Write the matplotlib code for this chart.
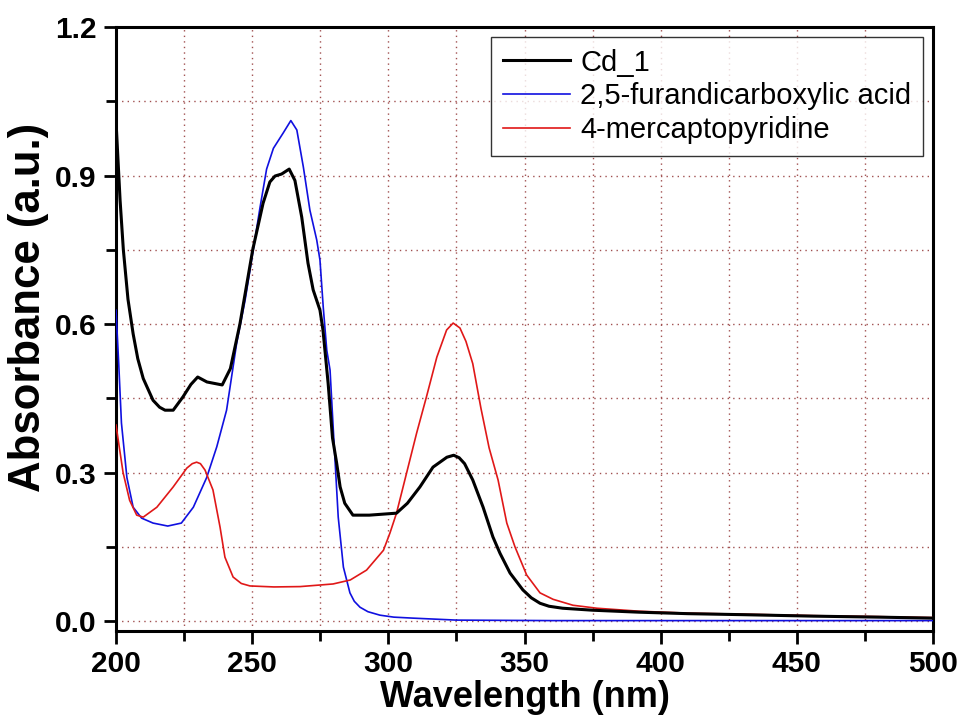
import matplotlib
matplotlib.use("Agg")
import matplotlib.pyplot as plt
from matplotlib.ticker import MultipleLocator
import numpy as np

# ---- data ----
cd_x = [200, 201.5, 202.7, 204.4, 206.3, 208, 210, 213.6, 216, 218, 221, 224.6, 227.5, 230, 233.4, 239, 242,
        245.5, 250.2, 254, 256.5, 258.4, 260.8, 263.6, 265.7, 268.2, 270.5, 272.4, 274.9, 276,
        277.9, 279.5, 281, 282.3, 284, 287, 293, 303, 307, 311.6, 316.4, 321.5, 324, 326, 328,
        331, 334.8, 338.4, 341, 344.7, 349.4, 352.5, 355.7, 359, 364, 375, 392, 410, 430, 456, 480, 500]
cd_y = [1.01, 0.85, 0.75, 0.65, 0.58, 0.53, 0.49, 0.446, 0.432, 0.426, 0.426, 0.453, 0.478, 0.493, 0.483, 0.477, 0.51,
        0.60, 0.75, 0.844, 0.887, 0.899, 0.903, 0.913, 0.89, 0.816, 0.723, 0.669, 0.628, 0.588,
        0.48, 0.37, 0.32, 0.271, 0.238, 0.214, 0.214, 0.218, 0.238, 0.271, 0.311, 0.331, 0.335, 0.33, 0.318,
        0.285, 0.23, 0.17, 0.137, 0.097, 0.063, 0.047, 0.036, 0.030, 0.026, 0.022, 0.018, 0.015, 0.013, 0.010, 0.008, 0.006]

fdca_x = [200, 201, 202, 204, 206.3, 209.4, 213.6, 219, 224, 228.4, 233.3, 237, 240.6, 244.3,
          247.4, 249.2, 252.9, 255.3, 257.8, 261.4, 264.2, 266.4, 268.8, 271.2, 273.7, 274.9,
          276.1, 277.4, 278.6, 279.8, 281.6, 283.5, 285.9, 287.5, 289.6, 292.5, 296.9, 302, 309, 325, 360, 400, 450, 500]
fdca_y = [0.628, 0.52, 0.40, 0.29, 0.23, 0.208, 0.198, 0.192, 0.198, 0.23, 0.29, 0.352, 0.426, 0.561,
          0.648, 0.709, 0.836, 0.913, 0.955, 0.986, 1.011, 0.992, 0.917, 0.83, 0.77, 0.729,
          0.634, 0.547, 0.507, 0.386, 0.21, 0.109, 0.057, 0.040, 0.028, 0.019, 0.012, 0.008, 0.006, 0.002, 0.001, 0.001, 0.001, 0.001]

mp_x = [200, 202.6, 205, 207.6, 210, 215, 221, 226, 228, 229.6, 231, 232.7, 235.6, 238.2, 240, 243, 246,
        249.2, 258, 267.6, 279.7, 286, 292, 298.2, 300.6, 303, 306.7, 310.4, 314, 317.8, 321.4,
        323.8, 326.3, 328.5, 331, 334, 337, 340.3, 343.5, 346.5, 350.8, 355.7, 360.5, 367.8,
        376.6, 392, 410, 430, 456, 480, 500]
mp_y = [0.396, 0.30, 0.244, 0.214, 0.21, 0.23, 0.271, 0.309, 0.318, 0.321, 0.318, 0.305, 0.265, 0.19, 0.129, 0.089, 0.076,
        0.071, 0.069, 0.0697, 0.075, 0.083, 0.103, 0.143, 0.178, 0.218, 0.299, 0.38, 0.453, 0.533, 0.588,
        0.602, 0.592, 0.565, 0.52, 0.43, 0.35, 0.285, 0.198, 0.15, 0.093, 0.057, 0.044, 0.032,
        0.026, 0.02, 0.016, 0.014, 0.011, 0.009, 0.007]

labels = ["Cd_1", "2,5-furandicarboxylic acid", "4-mercaptopyridine"]
colors = ["black", "#1010e0", "#e01818"]
yticks = [0.0, 0.3, 0.6, 0.9, 1.2]

fig = plt.figure(figsize=(9.61, 7.16), dpi=100)
ax = fig.add_axes([116/961, 1-631/716, (933-116)/961, (631-27)/716])

ax.plot(cd_x, cd_y, color=colors[0], lw=2.2, label=labels[0], zorder=4, solid_joinstyle="round")
ax.plot(fdca_x, fdca_y, color=colors[1], lw=1.2, label=labels[1], zorder=3, solid_joinstyle="round")
ax.plot(mp_x, mp_y, color=colors[2], lw=1.2, label=labels[2], zorder=3, solid_joinstyle="round")

ax.set_xlim(200, 500)
ax.set_ylim(-0.02, 1.2)
ax.xaxis.set_major_locator(MultipleLocator(50))
ax.xaxis.set_minor_locator(MultipleLocator(25))
ax.yaxis.set_minor_locator(MultipleLocator(0.15))
ax.set_yticks(yticks)
ax.set_yticklabels([f"{v:.1f}" for v in yticks])

gridc = "#a05050"
ax.grid(True, which="both", color=gridc, linestyle=(0, (1, 3)), linewidth=1.0)
ax.set_axisbelow(True)

for s in ax.spines.values():
    s.set_linewidth(2.2)
ax.tick_params(which="major", direction="out", length=9, width=2, pad=5)
ax.tick_params(which="minor", direction="out", length=7, width=2)
ax.tick_params(top=False, right=False)

for lab in ax.get_xticklabels() + ax.get_yticklabels():
    lab.set_fontfamily("Liberation Sans")
    lab.set_fontweight("bold")
    lab.set_fontsize(21.5)

ax.set_xlabel("Wavelength (nm)", fontfamily="Liberation Sans", fontweight="bold", fontsize=26, labelpad=1)
ax.set_ylabel("Absorbance (a.u.)", fontfamily="Liberation Sans", fontweight="bold", fontsize=31.5, va="center")
ax.yaxis.set_label_coords(-0.1077, 0.536)

leg = ax.legend(loc="upper right", bbox_to_anchor=((923-116)/817, (631-37)/604), borderaxespad=0,
                prop=dict(family="Liberation Sans", size=21), frameon=True, fancybox=False,
                handlelength=2.3, handletextpad=0.35, labelspacing=0.2, borderpad=0.4)
leg.get_frame().set_edgecolor("black")
leg.get_frame().set_linewidth(1.0)

fig.savefig("out.png", dpi=100)
